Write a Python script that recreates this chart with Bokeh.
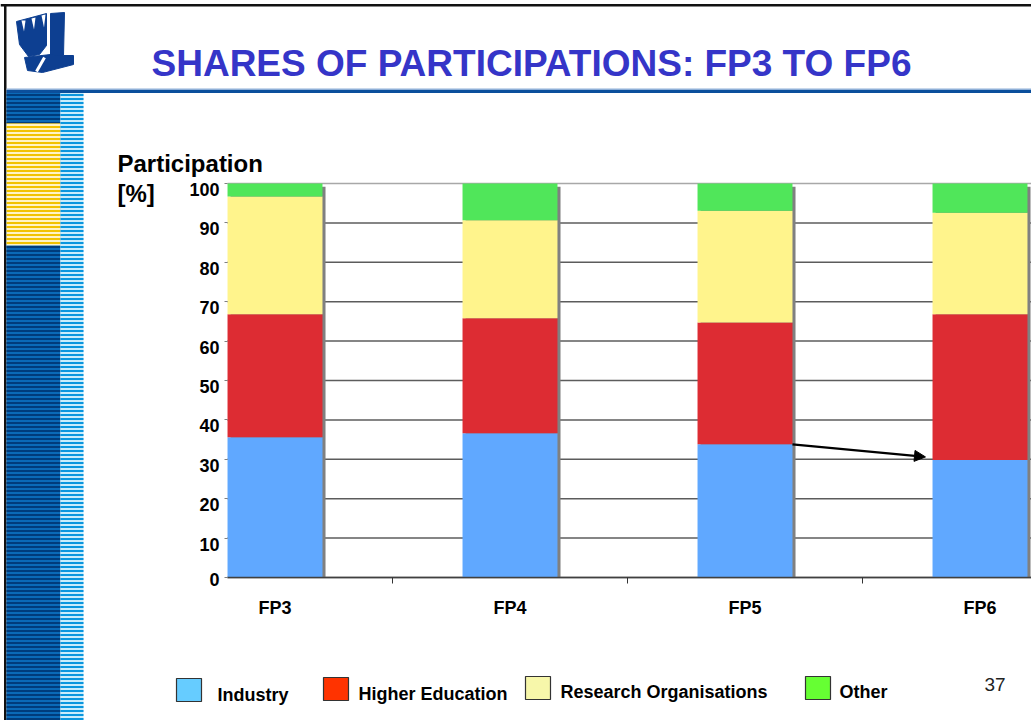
from bokeh.plotting import figure
from bokeh.models import (ColumnDataSource, Range1d, FixedTicker, Label,
                          Arrow, NormalHead, LinearAxis)
from bokeh.embed import file_html
from bokeh.resources import INLINE

# ---------------- data ----------------
categories = ["FP3", "FP4", "FP5", "FP6"]
industry = [35.6, 36.6, 33.8, 29.8]
higher_education = [31.2, 29.2, 30.9, 37.0]
research_organisations = [29.9, 24.9, 28.4, 25.8]
other = [3.3, 9.3, 6.9, 7.4]
series_names = ["Industry", "Higher Education", "Research Organisations", "Other"]
y_ticks = [0, 10, 20, 30, 40, 50, 60, 70, 80, 90, 100]

# ---------------- styles / geometry ----------------
bar_colors = ["#60A8FF", "#DD2C33", "#FFF48C", "#50E65A"]
legend_colors = ["#66CCFF", "#FF3300", "#F7F7AA", "#66FF33"]
FONT = "Liberation Sans"

W, H = 1031, 720
PX0, PX_UNIT = 274.5, 235.0     # pixel of first category centre, px per category
PY0, PY_UNIT = 577.0, 3.94      # pixel of value 0, px per percent
PLOT_LEFT_PX, PLOT_RIGHT_PX = 227.0, 1031.0
BAR_W = 0.404
LABEL_DROP_PX = 6               # tick labels sit slightly below their ticks

def cx(px):
    return (px - PX0) / PX_UNIT

def cy(py):
    return (PY0 - py) / PY_UNIT

X_LEFT, X_RIGHT = cx(PLOT_LEFT_PX), cx(PLOT_RIGHT_PX)

p = figure(width=W, height=H, output_backend="svg", toolbar_location=None,
           x_range=Range1d(0, W), y_range=Range1d(H, 0),
           x_axis_type=None, y_axis_type=None, min_border=0,
           outline_line_color=None, background_fill_color="white",
           border_fill_color="white")
p.extra_x_ranges = {"chart": Range1d(cx(0), cx(W))}
p.extra_y_ranges = {"chart": Range1d(cy(H), cy(0))}
CH = dict(x_range_name="chart", y_range_name="chart")

src = ColumnDataSource(dict(
    x=list(range(len(categories))),
    industry=industry, higher_education=higher_education,
    research_organisations=research_organisations, other=other,
    shadow_x=[i + 0.013 for i in range(len(categories))],
    shadow_top=[99.2] * len(categories),
))

# horizontal gridlines (behind bars)
grid_colors = ["#5c5c5c"] * (len(y_ticks) - 1) + ["#a8a8a8"]
p.segment(x0=[X_LEFT] * len(y_ticks), x1=[X_RIGHT] * len(y_ticks),
          y0=y_ticks, y1=y_ticks, line_color=grid_colors, line_width=1.5, **CH)

# bar shadow (grey right edge)
p.vbar(x="shadow_x", top="shadow_top", bottom=0, width=BAR_W, source=src,
       fill_color="#808080", line_color=None, **CH)

keys = ["industry", "higher_education", "research_organisations", "other"]
p.vbar_stack(keys, x="x", width=BAR_W, color=bar_colors, line_color=None,
             source=src, **CH)

# arrow FP5 -> FP6 industry share
p.add_layout(Arrow(end=NormalHead(size=11, fill_color="black", line_color="black"),
                   x_start=2 + BAR_W / 2, y_start=industry[2],
                   x_end=3 - BAR_W / 2 - 0.03, y_end=industry[3] + 0.8,
                   line_width=2.2, line_color="black", **CH))

# ---------------- axes ----------------
xa = LinearAxis(fixed_location=0, bounds=(X_LEFT, X_RIGHT), **CH)
xa.ticker = FixedTicker(ticks=list(range(len(categories))),
                        minor_ticks=[i + 0.5 for i in range(len(categories) - 1)])
xa.major_label_overrides = {i: c for i, c in enumerate(categories)}
xa.major_tick_line_color = None
xa.major_tick_out = 0
xa.major_tick_in = 0
xa.minor_tick_line_color = "#333333"
xa.minor_tick_out = 6
xa.minor_tick_in = 0
xa.axis_line_color = "#404040"
xa.axis_line_width = 1.5
xa.major_label_text_font = FONT
xa.major_label_text_font_style = "bold"
xa.major_label_text_font_size = "18px"
xa.major_label_text_color = "black"
xa.major_label_standoff = 14
p.add_layout(xa, "below")

# y axis: tick marks
ya = LinearAxis(fixed_location=X_LEFT, bounds=(0, 100), **CH)
ya.ticker = FixedTicker(ticks=y_ticks)
ya.axis_line_color = None
ya.major_tick_out = 3
ya.major_tick_in = 0
ya.major_tick_line_color = "#808080"
ya.minor_tick_line_color = None
ya.major_label_text_font_size = "0px"
ya.major_label_text_alpha = 0
p.add_layout(ya, "left")

# y axis: tick labels (drawn a few px lower, as in the original slide)
drop = LABEL_DROP_PX / PY_UNIT
label_pos = [t - (drop if t > 0 else drop / 3) for t in y_ticks]
yl = LinearAxis(fixed_location=X_LEFT, bounds=(-5, 101), **CH)
yl.ticker = FixedTicker(ticks=label_pos)
yl.major_label_overrides = {pos: str(t) for pos, t in zip(label_pos, y_ticks)}
yl.axis_line_color = None
yl.major_tick_line_color = None
yl.minor_tick_line_color = None
yl.major_tick_out = 3
yl.major_tick_in = 0
yl.major_label_text_font = FONT
yl.major_label_text_font_style = "bold"
yl.major_label_text_font_size = "18px"
yl.major_label_text_color = "black"
yl.major_label_standoff = 5
p.add_layout(yl, "left")

# ---------------- slide decorations (pixel coordinates) ----------------
def box(l, r, t, b, color, hatch=None, line_color=None, line_width=1):
    kw = dict(left=l, right=r, top=t, bottom=b, fill_color=color,
              line_color=line_color, line_width=line_width)
    if hatch:
        kw.update(hatch_pattern="horizontal_line", hatch_color=hatch,
                  hatch_scale=4, hatch_weight=2)
    p.quad(**kw)

def label(x, y, text, size, color="black", style="bold", align="left"):
    p.add_layout(Label(x=x, y=y, text=text, text_font=FONT, text_font_size=size,
                       text_font_style=style, text_color=color,
                       text_align=align, text_baseline="alphabetic"))

# slide border + blue header rule
box(0, 1031, 3.5, 6, "#111111")
box(3.5, 6, 3.5, 720, "#111111")
box(6, 1031, 88, 89.5, "#8FB0D8")
box(6, 1031, 89.5, 92.5, "#0B4F9C")

# left striped band
box(6, 60, 92.5, 720, "#0A6AB8", hatch="#003C7C")
box(6, 60, 123, 245, "#FFF3C4", hatch="#F2C200")
box(60, 83, 92.5, 720, "#C9ECFB", hatch="#0A96DE")

# logo (stylised "WL" mark)
logo_blue = "#0D3F91"
p.patches(xs=[[16, 46, 46, 39, 28, 19], [50, 64, 63, 73, 73, 50],
              [24, 50, 73, 73, 42, 27]],
          ys=[[21, 13, 45, 54, 56, 44], [13, 12, 55, 55, 63, 63],
              [57, 54, 57, 64, 72, 70]],
          fill_color=logo_blue, line_color=logo_blue)
p.patches(xs=[[21, 25, 23.5], [31, 35, 33.5], [41, 45, 43.5]],
          ys=[[20, 20, 31], [18, 17, 29], [15, 14, 27]],
          fill_color="white", line_color=None)
p.line(x=[44, 36], y=[57, 71], line_color="white", line_width=3)

# title
label(531, 63, "SHARES OF PARTICIPATIONS: FP3 TO FP6", "37px", color="#3535C8",
      align="center")

# y-axis caption
label(117, 163, "Participation", "24px")
label(117, 193, "[%]", "24px")

# legend
sw_x = [176, 323, 525, 805]
sw_y = [678, 677, 676, 676]
tx_x = [217, 358, 560, 839]
tx_y = [694, 693, 691, 691]
for i, name in enumerate(series_names):
    box(sw_x[i], sw_x[i] + 25, sw_y[i], sw_y[i] + 23, legend_colors[i],
        line_color="#333333", line_width=1.2)
    label(tx_x[i], tx_y[i], name, "18px")

# page number
label(984, 684, "37", "19px", color="#222222", style="normal")

open("out.html", "w").write(file_html(p, INLINE))
